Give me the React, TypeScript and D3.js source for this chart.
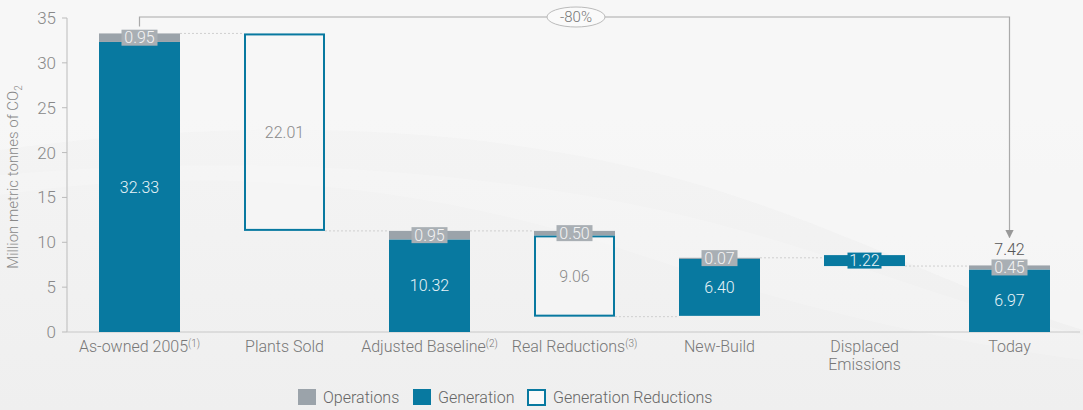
import React from "react";
import * as d3 from "d3";

const categories = ["As-owned 2005", "Plants Sold", "Adjusted Baseline", "Real Reductions", "New-Build", "Displaced Emissions", "Today"];
const superscripts = ["(1)", "", "(2)", "(3)", "", "", ""];
const bases = [0, 11.27, 0, 1.71, 1.8, 7.35, 0];
const generation = [32.33, 22.01, 10.32, 9.06, 6.4, 1.22, 6.97];
const operations = [0.95, 0, 0.95, 0.5, 0.07, 0, 0.45];
const reductionFlags = [false, true, false, true, false, false, false];
const yTicks = [0, 5, 10, 15, 20, 25, 30, 35];
const totalLabel = "7.42";
const changeLabel = "-80%";
const legendItems = ["Operations", "Generation", "Generation Reductions"];

const W = 1083;
const H = 410;
const TEAL = "#0879a0";
const GRAY = "#9ba3aa";
const LABELBG = "#a9afb4";
const FONT = "Roboto, 'Open Sans', sans-serif";

export default function App() {
  const x = d3.scaleBand<string>().domain(categories).range([67, 1082]).paddingInner(0.4414).paddingOuter(0.2207);
  const y = d3.scaleLinear().domain([0, 35]).range([332, 18]);
  const bw = x.bandwidth();

  const tops = categories.map((_, i) => bases[i] + generation[i] + operations[i]);

  const connectors: { i: number; v: number }[] = [
    { i: 0, v: tops[0] },
    { i: 1, v: bases[1] },
    { i: 2, v: tops[2] },
    { i: 3, v: bases[3] },
    { i: 4, v: tops[4] },
    { i: 5, v: bases[5] },
  ];

  const cx = (i: number) => (x(categories[i]) as number) + bw / 2;

  const leftBracket = cx(0);
  const rightBracket = cx(6);
  const bracketY = 17;

  return (
    <svg width={W} height={H} style={{ position: "absolute", left: 0, top: 0, fontFamily: FONT }}>
      <defs>
        <linearGradient id="bg" x1="0" y1="0" x2="0" y2="1">
          <stop offset="0" stopColor="#f6f6f6" />
          <stop offset="1" stopColor="#efefef" />
        </linearGradient>
        <marker id="arr" viewBox="0 0 10 10" refX="9" refY="5" markerWidth="7" markerHeight="7" orient="auto">
          <path d="M0,0 L10,5 L0,10 z" fill="#999" />
        </marker>
      </defs>
      <rect x={0} y={0} width={W} height={H} fill="url(#bg)" />
      <path d="M0,150 C250,115 500,125 700,185 C850,230 980,300 1083,330 L1083,0 L0,0 Z" fill="#f8f8f8" opacity={0.6} />
      <path d="M0,195 C200,165 420,180 640,255 C760,295 900,335 1083,360 L1083,335 C950,305 820,245 660,210 C450,165 220,155 0,175 Z" fill="#ffffff" opacity={0.18} />

      {/* axes */}
      <line x1={67} x2={67} y1={y(35)} y2={y(0)} stroke="#bbb" />
      <line x1={67} x2={1080} y1={y(0)} y2={y(0)} stroke="#c8c8c8" />
      {yTicks.map((t) => (
        <g key={t}>
          <line x1={62} x2={67} y1={y(t)} y2={y(t)} stroke="#bbb" />
          <text x={56} y={y(t)} dy="0.35em" textAnchor="end" fontSize={17} fill="#888" fontWeight={300}>
            {t}
          </text>
        </g>
      ))}
      <text transform={`translate(18,${(y(0) + y(35)) / 2 + 2}) rotate(-90)`} textAnchor="middle" fontSize={15} fill="#888" fontWeight={300}>
        Million metric tonnes of CO<tspan fontSize={10} dy={4}>2</tspan>
      </text>

      {/* connectors */}
      {connectors.map((c, k) => (
        <line
          key={k}
          x1={(x(categories[c.i]) as number) + bw}
          x2={x(categories[c.i + 1]) as number}
          y1={y(c.v)}
          y2={y(c.v)}
          stroke="#cfcfcf"
          strokeDasharray="2,2"
        />
      ))}

      {/* bars */}
      {categories.map((cat, i) => {
        const x0 = x(cat) as number;
        const g0 = bases[i];
        const g1 = bases[i] + generation[i];
        const o1 = g1 + operations[i];
        const red = reductionFlags[i];
        return (
          <g key={cat}>
            {red ? (
              <rect x={x0 + 1} y={y(g1) + 1} width={bw - 2} height={y(g0) - y(g1) - 2} fill="#f7f7f7" fillOpacity={0.6} stroke={TEAL} strokeWidth={2} />
            ) : (
              <rect x={x0} y={y(g1)} width={bw} height={y(g0) - y(g1)} fill={TEAL} />
            )}
            {operations[i] > 0 && (
              <rect x={x0} y={y(o1)} width={bw} height={Math.max(y(g1) - y(o1), 1)} fill={GRAY} />
            )}
          </g>
        );
      })}

      {/* labels */}
      {categories.map((cat, i) => {
        const g0 = bases[i];
        const g1 = bases[i] + generation[i];
        const o1 = g1 + operations[i];
        const c = cx(i);
        const red = reductionFlags[i];
        const small = y(g0) - y(g1) < 20;
        const out: React.ReactNode[] = [];
        if (small) {
          const yc = y((g0 + g1) / 2);
          out.push(<rect key="b" x={c - 17} y={yc - 8} width={34} height={16} fill={TEAL} />);
          out.push(
            <text key="t" x={c} y={yc} dy="0.36em" textAnchor="middle" fontSize={16} fill="#e8f4f8" fontWeight={300}>
              {generation[i].toFixed(2)}
            </text>
          );
        } else {
          out.push(
            <text key="t" x={c} y={y((g0 + g1) / 2)} dy="0.36em" textAnchor="middle" fontSize={16} fill={red ? "#8a8a8a" : "#e8f4f8"} fontWeight={300}>
              {generation[i].toFixed(2)}
            </text>
          );
        }
        if (operations[i] > 0) {
          const yc = y((g1 + o1) / 2);
          out.push(<rect key="ob" x={c - 18} y={yc - 8} width={36} height={16} fill={LABELBG} />);
          out.push(
            <text key="ot" x={c} y={yc} dy="0.36em" textAnchor="middle" fontSize={16} fill="#f4f4f4" fontWeight={300}>
              {operations[i].toFixed(2)}
            </text>
          );
        }
        return <g key={cat}>{out}</g>;
      })}
      <text x={cx(6)} y={y(tops[6]) - 16} dy="0.36em" textAnchor="middle" fontSize={16} fill="#555" fontWeight={300}>
        {totalLabel}
      </text>

      {/* bracket */}
      <path d={`M${leftBracket},${y(tops[0]) - 7} V${bracketY} H${rightBracket} V${y(tops[6]) - 28}`} fill="none" stroke="#aaa" strokeWidth={1.2} markerEnd="url(#arr)" />
      <ellipse cx={576} cy={bracketY} rx={29} ry={10} fill="#fafafa" stroke="#bbb" />
      <text x={576} y={bracketY} dy="0.36em" textAnchor="middle" fontSize={15} fill="#777" fontWeight={300}>
        {changeLabel}
      </text>

      {/* x labels */}
      {categories.map((cat, i) => {
        const c = cx(i);
        const words = cat === "Displaced Emissions" ? ["Displaced", "Emissions"] : [cat];
        return (
          <text key={cat} x={c} y={346} textAnchor="middle" fontSize={16} fill="#777" fontWeight={300}>
            {words.map((w, k) => (
              <tspan key={k} x={c} dy={k === 0 ? "0.35em" : 18}>
                {w}
                {k === words.length - 1 && superscripts[i] ? (
                  <tspan fontSize={10} dy={-5}>{superscripts[i]}</tspan>
                ) : null}
              </tspan>
            ))}
          </text>
        );
      })}

      {/* legend */}
      <g fontSize={16} fill="#666" fontWeight={300}>
        <rect x={298} y={389} width={18} height={16} fill={GRAY} />
        <text x={323} y={397} dy="0.35em">{legendItems[0]}</text>
        <rect x={413} y={389} width={18} height={16} fill={TEAL} />
        <text x={438} y={397} dy="0.35em">{legendItems[1]}</text>
        <rect x={528} y={390} width={17} height={15} fill="#fafafa" stroke={TEAL} strokeWidth={2} />
        <text x={553} y={397} dy="0.35em">{legendItems[2]}</text>
      </g>
    </svg>
  );
}
